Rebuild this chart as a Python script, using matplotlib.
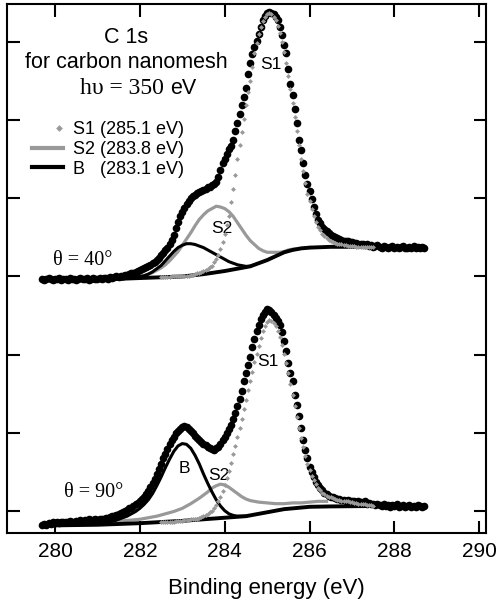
import numpy as np
import matplotlib.pyplot as plt
from matplotlib.lines import Line2D
from matplotlib.legend_handler import HandlerLine2D

plt.rcParams['font.family'] = 'Liberation Sans'

# binding energy grid of the measured spectra (eV)
energy = np.linspace(279.70, 288.70, 181)

# measured C 1s intensity (arb. units, offset), theta = 40 deg
theta40 = [
    2.97, 2.96, 2.97, 2.98, 2.97, 2.96, 2.97, 2.97, 2.98, 2.96,   # 279.70-280.15
    2.97, 2.97, 2.96, 2.98, 2.97, 2.97, 2.96, 2.97, 2.98, 2.97,   # 280.20-280.65
    2.97, 2.98, 2.96, 2.97, 2.98, 2.97, 2.97, 2.98, 2.97, 2.98,   # 280.70-281.15
    2.98, 2.97, 2.99, 2.98, 2.99, 3.00, 2.99, 3.01, 3.00, 3.02,   # 281.20-281.65
    3.02, 3.03, 3.04, 3.04, 3.06, 3.07, 3.08, 3.09, 3.11, 3.12,   # 281.70-282.15
    3.14, 3.15, 3.17, 3.19, 3.21, 3.24, 3.27, 3.30, 3.34, 3.37,   # 282.20-282.65
    3.41, 3.47, 3.53, 3.62, 3.70, 3.77, 3.82, 3.88, 3.93, 3.97,   # 282.70-283.15
    4.00, 4.03, 4.05, 4.07, 4.08, 4.10, 4.11, 4.12, 4.14, 4.15,   # 283.20-283.65
    4.17, 4.19, 4.21, 4.27, 4.36, 4.45, 4.51, 4.57, 4.63, 4.67,   # 283.70-284.15
    4.75, 4.87, 4.97, 5.08, 5.20, 5.30, 5.42, 5.60, 5.74, 5.85,   # 284.20-284.65
    5.94, 6.02, 6.10, 6.20, 6.28, 6.34, 6.37, 6.39, 6.38, 6.36,   # 284.70-285.15
    6.33, 6.28, 6.20, 6.09, 5.97, 5.86, 5.66, 5.46, 5.33, 5.14,   # 285.20-285.65
    4.97, 4.75, 4.62, 4.46, 4.30, 4.19, 4.10, 3.99, 3.89, 3.80,   # 285.70-286.15
    3.73, 3.68, 3.64, 3.61, 3.58, 3.56, 3.53, 3.52, 3.50, 3.49,   # 286.20-286.65
    3.48, 3.47, 3.46, 3.46, 3.45, 3.44, 3.44, 3.43, 3.43, 3.42,   # 286.70-287.15
    3.42, 3.41, 3.40, 3.41, 3.39, 3.40, 3.38, 3.39, 3.40, 3.38,   # 287.20-287.65
    3.37, 3.39, 3.38, 3.36, 3.38, 3.39, 3.37, 3.38, 3.36, 3.38,   # 287.70-288.15
    3.39, 3.37, 3.36, 3.38, 3.37, 3.39, 3.36, 3.38, 3.37, 3.38,   # 288.20-288.65
    3.37]                                                          # 288.70

# measured C 1s intensity, theta = 90 deg
theta90 = [
    -0.18, -0.17, -0.18, -0.16, -0.17, -0.15, -0.16, -0.15, -0.16, -0.14,
    -0.15, -0.14, -0.15, -0.13, -0.14, -0.15, -0.13, -0.14, -0.12, -0.13,
    -0.12, -0.13, -0.11, -0.12, -0.12, -0.11, -0.12, -0.10, -0.11, -0.10,
    -0.09, -0.09, -0.08, -0.07, -0.07, -0.05, -0.04, -0.03, -0.02, 0.00,
    0.01, 0.03, 0.04, 0.06, 0.08, 0.10, 0.12, 0.15, 0.18, 0.22,
    0.25, 0.30, 0.35, 0.41, 0.47, 0.54, 0.60, 0.67, 0.73, 0.79,
    0.85, 0.90, 0.95, 0.99, 1.02, 1.05, 1.07, 1.08, 1.07, 1.05,
    1.02, 0.99, 0.96, 0.93, 0.91, 0.88, 0.86, 0.84, 0.81, 0.80,
    0.79, 0.78, 0.80, 0.82, 0.86, 0.90, 0.95, 1.00, 1.05, 1.10,
    1.17, 1.25, 1.34, 1.43, 1.53, 1.66, 1.76, 1.86, 1.97, 2.10,
    2.20, 2.30, 2.38, 2.45, 2.51, 2.55, 2.58, 2.57, 2.54, 2.51,
    2.47, 2.43, 2.38, 2.29, 2.18, 2.05, 1.89, 1.76, 1.66, 1.48,
    1.35, 1.21, 1.06, 0.90, 0.78, 0.68, 0.56, 0.50, 0.43, 0.37,
    0.33, 0.29, 0.26, 0.23, 0.21, 0.19, 0.18, 0.17, 0.16, 0.15,
    0.15, 0.14, 0.14, 0.13, 0.14, 0.12, 0.13, 0.12, 0.11, 0.12,
    0.11, 0.10, 0.12, 0.09, 0.10, 0.08, 0.09, 0.07, 0.08, 0.07,
    0.06, 0.08, 0.06, 0.07, 0.05, 0.07, 0.06, 0.08, 0.05, 0.06,
    0.07, 0.05, 0.06, 0.07, 0.05, 0.06, 0.05, 0.07, 0.06, 0.05,
    0.06]

# S1 component (grey diamonds), 282.50-287.50 eV
s1_energy = np.linspace(282.50, 287.50, 101)
s1_40 = [
    2.99, 2.99, 2.99, 2.99, 2.99, 3.00, 3.00, 3.00, 3.00, 3.00,
    3.00, 3.01, 3.01, 3.01, 3.02, 3.02, 3.03, 3.04, 3.05, 3.06,
    3.07, 3.08, 3.10, 3.12, 3.14, 3.18, 3.22, 3.28, 3.35, 3.44,
    3.55, 3.66, 3.78, 3.95, 4.12, 4.30, 4.50, 4.68, 4.85, 5.02,
    5.20, 5.36, 5.50, 5.68, 5.86, 5.99, 6.10, 6.20, 6.27, 6.32,
    6.36, 6.37, 6.36, 6.33, 6.28, 6.21, 6.12, 6.01, 5.88, 5.73,
    5.57, 5.40, 5.22, 5.04, 4.86, 4.68, 4.51, 4.35, 4.20, 4.06,
    3.97, 3.87, 3.78, 3.70, 3.64, 3.59, 3.55, 3.52, 3.49, 3.47,
    3.45, 3.44, 3.43, 3.42, 3.41, 3.41, 3.40, 3.40, 3.39, 3.39,
    3.39, 3.39, 3.38, 3.38, 3.38, 3.38, 3.38, 3.38, 3.38, 3.38, 3.38]
s1_90 = [
    -0.15, -0.15, -0.15, -0.14, -0.14, -0.14, -0.14, -0.13, -0.13, -0.13,
    -0.13, -0.12, -0.12, -0.12, -0.11, -0.11, -0.10, -0.10, -0.09, -0.08,
    -0.07, -0.06, -0.04, -0.02, 0.00, 0.03, 0.07, 0.12, 0.18, 0.25,
    0.33, 0.42, 0.51, 0.61, 0.72, 0.83, 0.95, 1.06, 1.18, 1.30,
    1.42, 1.54, 1.66, 1.78, 1.90, 2.01, 2.11, 2.21, 2.30, 2.37,
    2.42, 2.44, 2.43, 2.40, 2.36, 2.30, 2.22, 2.12, 2.01, 1.89,
    1.76, 1.62, 1.48, 1.34, 1.20, 1.06, 0.93, 0.81, 0.70, 0.60,
    0.52, 0.45, 0.39, 0.34, 0.29, 0.26, 0.23, 0.21, 0.19, 0.18,
    0.17, 0.16, 0.15, 0.14, 0.14, 0.13, 0.13, 0.12, 0.12, 0.11,
    0.11, 0.10, 0.10, 0.09, 0.09, 0.08, 0.08, 0.07, 0.07, 0.07, 0.06]

# S2 component (grey line)
s2_40_energy = np.linspace(281.0, 286.0, 51)
s2_40 = [
    2.97, 2.97, 2.97, 2.97, 2.97, 2.97, 2.97, 2.98, 2.98, 2.99,
    3.00, 3.01, 3.03, 3.05, 3.08, 3.11, 3.15, 3.20, 3.26, 3.32,
    3.40, 3.48, 3.56, 3.65, 3.73, 3.79, 3.84, 3.87, 3.90, 3.89,
    3.87, 3.83, 3.77, 3.69, 3.61, 3.53, 3.46, 3.41, 3.36, 3.33,
    3.31, 3.31, 3.31, 3.31, 3.32, 3.34, 3.35, 3.355, 3.36, 3.365, 3.37]
s2_90_energy = [281.0, 281.2, 281.4, 281.6, 281.8, 282.0, 282.2, 282.4, 282.6,
                282.8, 283.0, 283.2, 283.4, 283.6, 283.7, 283.8, 283.9, 284.0,
                284.1, 284.2, 284.3, 284.4, 284.5, 284.6, 284.8, 285.0, 285.2,
                285.4, 285.6, 285.8, 286.0, 286.2, 286.4]
s2_90 = [-0.17, -0.16, -0.145, -0.13, -0.12, -0.11, -0.09, -0.07, -0.04,
         -0.01, 0.03, 0.09, 0.16, 0.24, 0.29, 0.32, 0.34, 0.33,
         0.30, 0.26, 0.22, 0.18, 0.15, 0.13, 0.11, 0.10, 0.09,
         0.09, 0.10, 0.10, 0.11, 0.12, 0.12]

# B component (black line)
b_40_energy = np.linspace(281.5, 284.6, 32)
b_40 = [2.97, 2.97, 2.98, 2.98, 2.99,
        3.00, 3.01, 3.03, 3.06, 3.10, 3.14, 3.20, 3.26, 3.32, 3.37,
        3.40, 3.42, 3.42, 3.41, 3.39, 3.37, 3.34, 3.31, 3.28, 3.25,
        3.22, 3.19, 3.17, 3.15, 3.14, 3.13, 3.13]
b_90_energy = np.linspace(281.0, 284.5, 36)
b_90 = [-0.17, -0.16, -0.15, -0.14, -0.13, -0.11, -0.09, -0.07, -0.04, -0.01,
        0.03, 0.08, 0.14, 0.22, 0.32, 0.43, 0.55, 0.66, 0.76, 0.83,
        0.86, 0.85, 0.80, 0.71, 0.60, 0.47, 0.35, 0.24, 0.14, 0.06,
        0.00, -0.04, -0.06, -0.07, -0.07, -0.07]

# background (black line)
bg_40_energy = [279.7, 280.5, 281.5, 282.5, 283.0, 283.5, 284.0, 284.3, 284.6, 284.8,
                285.0, 285.2, 285.4, 285.6, 285.8, 286.0, 286.5, 287.5, 288.7]
bg_40 = [2.97, 2.97, 2.97, 2.99, 3.00, 3.03, 3.07, 3.10, 3.13, 3.17,
         3.21, 3.26, 3.31, 3.34, 3.36, 3.37, 3.38, 3.38, 3.38]
bg_90_energy = [279.7, 281.0, 282.0, 283.0, 283.5, 284.0, 284.5, 284.8, 285.0,
                285.2, 285.4, 285.6, 285.8, 286.0, 286.5, 287.5, 288.7]
bg_90 = [-0.19, -0.18, -0.16, -0.13, -0.11, -0.09, -0.07, -0.04, -0.02,
         0.00, 0.02, 0.03, 0.04, 0.05, 0.055, 0.06, 0.06]

xticks = [280, 282, 284, 286, 288, 290]
legend_labels = ['S1 (285.1 eV)', 'S2 (283.8 eV)', 'B   (283.1 eV)']

GREY = '#999999'


class RightMarker(HandlerLine2D):
    # single legend marker sitting near the right end of the handle
    def get_xdata(self, legend, xdescent, ydescent, width, height, fontsize):
        x = -xdescent + 0.87 * width
        return np.array([x]), np.array([x])


fig = plt.figure(figsize=(4.97, 6.01), dpi=100)
ax = fig.add_axes([0.0141, 0.1136, 0.9632, 0.8797])

spectra = [
    (theta40, s1_40, s2_40_energy, s2_40, b_40_energy, b_40, bg_40_energy, bg_40),
    (theta90, s1_90, s2_90_energy, s2_90, b_90_energy, b_90, bg_90_energy, bg_90),
]
for data, s1, e_s2, s2, e_b, b, e_bg, bg in spectra:
    ax.plot(e_s2, s2, color=GREY, lw=2.3, zorder=2)
    ax.plot(e_b, b, color='black', lw=2.2, zorder=2.5)
    ax.plot(e_bg, bg, color='black', lw=2.8, zorder=3)
    ax.plot(energy, data, 'o', color='black', ms=5.5, mew=0, zorder=4)
    ax.plot(s1_energy, s1, 'D', color=GREY, ms=2.5, mew=0, zorder=5)

# annotations
ax.text(281.67, 6.055, 'C 1s', ha='center', va='center', fontsize=15.5)
ax.text(281.69, 5.735, 'for carbon nanomesh', ha='center', va='center', fontsize=15.5)
ax.text(280.59, 5.414, 'h\u03c5 = 350', ha='left', va='center', fontsize=17,
        family='Liberation Serif')
ax.text(282.71, 5.414, 'eV', ha='left', va='center', fontsize=15.5)

ax.text(285.09, 5.71, 'S1', ha='center', va='center', fontsize=12.5)
ax.text(283.94, 3.62, 'S2', ha='center', va='center', fontsize=12.5)
ax.text(280.65, 3.20, '\u03b8 = 40\u00b0', ha='center', va='center', fontsize=14.5,
        family='Liberation Serif')

ax.text(285.02, 1.91, 'S1', ha='center', va='center', fontsize=12.5)
ax.text(283.05, 0.543, 'B', ha='center', va='center', fontsize=12.5)
ax.text(283.87, 0.457, 'S2', ha='center', va='center', fontsize=12.5)
ax.text(280.90, 0.231, '\u03b8 = 90\u00b0', ha='center', va='center', fontsize=14.5,
        family='Liberation Serif')

# legend
s1_handle = Line2D([], [], ls='none', marker='D', color=GREY, ms=3.4, mew=0)
handles = [s1_handle,
           Line2D([], [], color=GREY, lw=3),
           Line2D([], [], color='black', lw=3)]
ax.legend(handles, legend_labels, loc='upper left', bbox_to_anchor=(0.0516, 0.778),
          frameon=False, fontsize=13, handlelength=1.75, handletextpad=0.55,
          labelspacing=0.15, borderpad=0, borderaxespad=0,
          handler_map={s1_handle: RightMarker()})

ax.set_xlim(278.87, 290.15)
ax.set_ylim(-0.282, 6.49)
ax.set_xticks(xticks)
ax.set_yticks(range(7))
ax.tick_params(which='both', direction='in', length=9, width=1.5,
               top=True, right=True, labelsize=15, pad=7)
ax.tick_params(axis='y', labelleft=False)
for sp in ax.spines.values():
    sp.set_linewidth(1.5)

ax.set_xlabel('Binding energy (eV)', fontsize=16, labelpad=4)
ax.xaxis.set_label_coords(0.5415, -0.085)

fig.savefig('out.png', dpi=100)
plt.close()
